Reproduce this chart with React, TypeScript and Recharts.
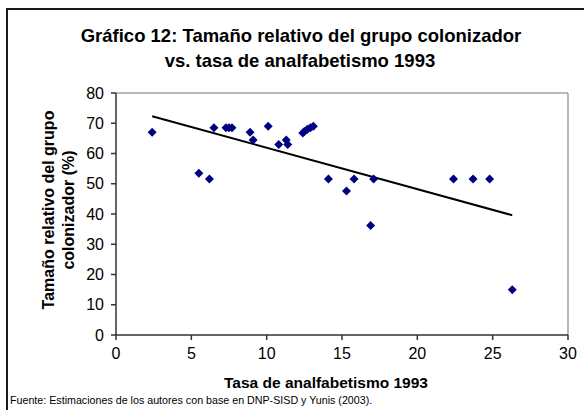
import React from "react";
import {
  ScatterChart,
  Scatter,
  XAxis,
  YAxis,
  ReferenceLine,
} from "recharts";

// Tasa de analfabetismo 1993 (x) vs tamaño relativo del grupo colonizador (y)
const analfabetismo = [
  2.4, 5.5, 6.2, 6.5, 7.3, 7.5, 7.7, 8.9, 9.1, 10.1, 10.8, 11.3, 11.4, 12.4,
  12.5, 12.7, 12.9, 13.1, 14.1, 15.3, 15.8, 16.9, 17.1, 22.4, 23.7, 24.8, 26.3,
];
const colonizador = [
  67, 53.5, 51.6, 68.5, 68.5, 68.5, 68.5, 67, 64.5, 69, 63, 64.5, 63, 66.8,
  67.3, 68, 68.5, 69, 51.6, 47.6, 51.6, 36.2, 51.6, 51.6, 51.6, 51.6, 15,
];

// linear trend line endpoints
const trendX = [2.4, 26.3];
const trendY = [72.3, 39.6];

const xTicks = [0, 5, 10, 15, 20, 25, 30];
const yTicks = [0, 10, 20, 30, 40, 50, 60, 70, 80];

const points = analfabetismo.map((x, i) => ({ x, y: colonizador[i] }));
const trend = trendX.map((x, i) => ({ x, y: trendY[i] }));

const FONT = "'Liberation Sans', Arial, sans-serif";

const Diamond = (props: any) => {
  const { cx, cy } = props;
  if (cx == null || cy == null) return <g />;
  return (
    <polygon
      points={`${cx},${cy - 4.5} ${cx + 4.5},${cy} ${cx},${cy + 4.5} ${cx - 4.5},${cy}`}
      fill="#000080"
    />
  );
};

const NoDot = () => <g />;

export default function App() {
  return (
    <div
      style={{
        position: "absolute",
        left: 0,
        top: 0,
        width: 584,
        height: 410,
        overflow: "hidden",
        background: "#fff",
        fontFamily: FONT,
      }}
    >
      {/* outer frame, cropped at right and bottom */}
      <div
        style={{
          position: "absolute",
          left: 6,
          top: 8,
          width: 700,
          height: 500,
          border: "2px solid #1a1a1a",
        }}
      />
      <div style={{ position: "absolute", left: 0, top: 0 }}>
        <ScatterChart
          width={584}
          height={410}
          margin={{ top: 93, right: 16, left: 0, bottom: 0 }}
        >
          <XAxis
            type="number"
            dataKey="x"
            domain={[0, 30]}
            ticks={xTicks}
            interval={0}
            stroke="#333"
            strokeWidth={1.5}
            tickSize={5}
            tickMargin={8}
            height={75}
            tick={{ fill: "#000", fontSize: 16, fontFamily: FONT }}
          />
          <YAxis
            type="number"
            dataKey="y"
            domain={[0, 80]}
            ticks={yTicks}
            interval={0}
            stroke="#333"
            strokeWidth={1.5}
            tickSize={5}
            tickMargin={7}
            width={116}
            tick={{ fill: "#000", fontSize: 16, fontFamily: FONT }}
          />
          <ReferenceLine y={80} stroke="#a0a0a0" strokeWidth={1.5} />
          <ReferenceLine x={30} stroke="#a0a0a0" strokeWidth={1.5} />
          <Scatter
            data={trend}
            line={{ stroke: "#000", strokeWidth: 2 }}
            shape={NoDot}
            isAnimationActive={false}
          />
          <Scatter data={points} shape={Diamond} isAnimationActive={false} />
        </ScatterChart>
      </div>
      <svg
        width={584}
        height={410}
        style={{ position: "absolute", left: 0, top: 0, pointerEvents: "none" }}
        fontFamily={FONT}
      >
        <text x={301} y={35} textAnchor="middle" dominantBaseline="central" fontSize={18.5} fontWeight="bold">
          Gráfico 12: Tamaño relativo del grupo colonizador
        </text>
        <text x={300} y={60} textAnchor="middle" dominantBaseline="central" fontSize={18.5} fontWeight="bold">
          vs. tasa de analfabetismo 1993
        </text>
        <g transform="translate(48,210) rotate(-90)">
          <text x={0} y={0} textAnchor="middle" dominantBaseline="central" fontSize={16} fontWeight="bold">
            Tamaño relativo del grupo
          </text>
        </g>
        <g transform="translate(68,210) rotate(-90)">
          <text x={0} y={0} textAnchor="middle" dominantBaseline="central" fontSize={16} fontWeight="bold">
            colonizador (%)
          </text>
        </g>
        <text x={326} y={382} textAnchor="middle" dominantBaseline="central" fontSize={15.5} fontWeight="bold">
          Tasa de analfabetismo 1993
        </text>
        <text x={10} y={400} dominantBaseline="central" fontSize={10.7}>
          Fuente: Estimaciones de los autores con base en DNP-SISD y Yunis (2003).
        </text>
      </svg>
    </div>
  );
}
